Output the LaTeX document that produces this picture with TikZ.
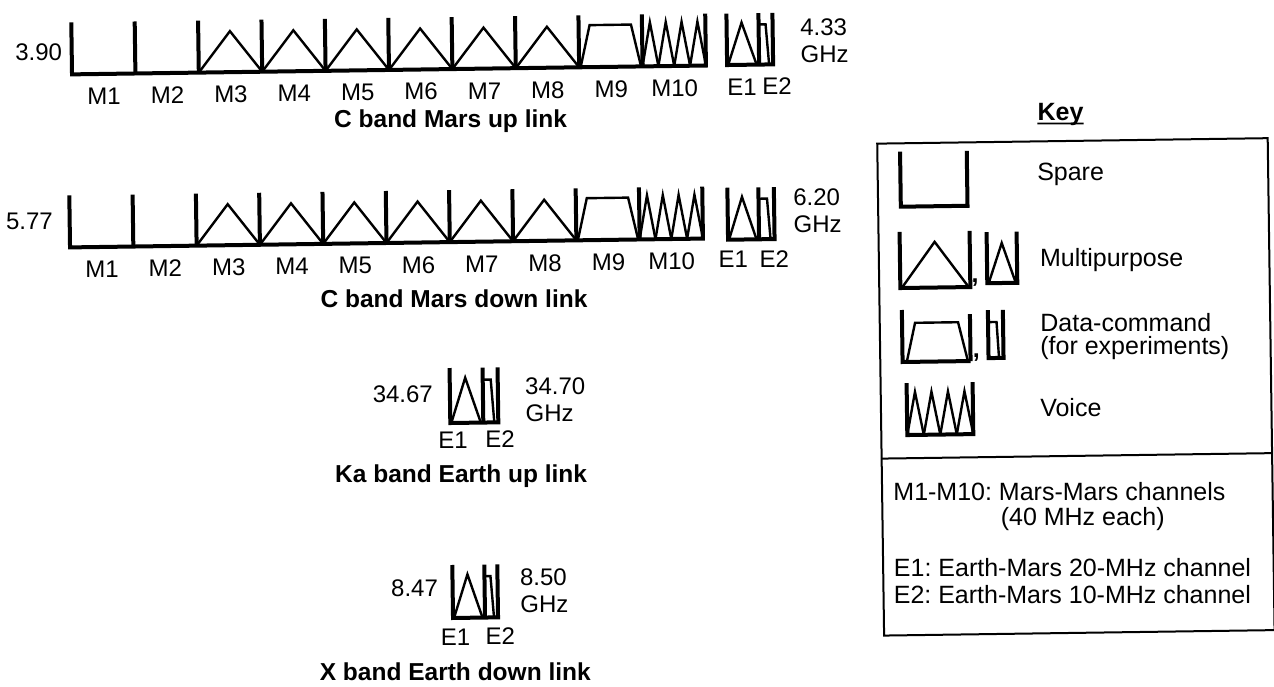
\documentclass[tikz,border=0pt]{standalone}
\usepackage{fontspec}
\setmainfont{Liberation Sans}
\frenchspacing
\tikzset{
  wall/.style={line width=4pt, line join=miter},
  sig/.style={line width=2.4pt, line join=miter},
  frame/.style={line width=2pt},
  lbl/.style={inner sep=0pt, font=\fontsize{24}{28}\selectfont},
  ttl/.style={inner sep=0pt, font=\fontsize{24.5}{28}\selectfont\bfseries},
  keytxt/.style={inner sep=0pt, font=\fontsize{25}{29}\selectfont},
}
% #1 = channel step, #2 = name prefix
\newcommand{\MarsBandDraw}[2]{%
  \foreach \i in {3,...,8}{\draw[sig] ({(\i-1)*#1},0)--({(\i-0.5)*#1},-41)--({\i*#1},0);}
  \draw[sig] ({8*#1+1.5},0)--({8*#1+11},-42)--({9*#1-11},-42)--({9*#1-1.5},0);
  \foreach \k in {0,...,3}{\draw[sig] ({9*#1+\k*#1/4},0)--({9*#1+(\k+0.5)*#1/4},-44)--({9*#1+(\k+1)*#1/4},0);}
  \draw[wall] (0,-52)--(0,0)--({10*#1},0)--({10*#1},-52);
  \foreach \i in {1,...,9}{\draw[wall] ({\i*#1},0)--({\i*#1},-52);}
  \foreach \i in {1,...,10}{\node[lbl,anchor=base,name=#2m\i] at ({(\i-0.5)*#1},30.5) {M\i};}
}
% #1 = wall height, #2 = divider offset, #3 = right wall offset
\newcommand{\EBlockDraw}[3]{%
  \draw[sig] (1,0)--({#2/2-1},{-0.82*#1})--({#2-2.5},0);
  \draw[sig] (#2,{-0.78*#1})--({#3-7},{-0.78*#1})--({#3-4},0);
  \draw[wall] (0,-#1)--(0,0)--(#3,0)--(#3,-#1);
  \draw[wall] (#2,0)--(#2,-#1);
}
\begin{document}
\begin{tikzpicture}[x=1pt,y=-1pt]
\useasboundingbox (0,0) rectangle (1274,687);
\fill[white] (0,0) rectangle (1274,687);
\begin{scope}[rotate around={0.8:(637,343)}]
% ---------------- C band Mars up link
\begin{scope}[shift={(75.8,66.5)}]
  \MarsBandDraw{63.4}{u}
\end{scope}
\begin{scope}[shift={(731,66.3)}]
  \EBlockDraw{51.5}{32}{46}
\end{scope}
\node[lbl,anchor=base east] (uLo) at (66.2,52) {3.90};
\node[lbl,anchor=base west] (uHi) at (804.4,37.3) {4.33};
\node[lbl,anchor=base west] (uGHz) at (804.4,65.3) {GHz};
\node[lbl,anchor=base] (uE1) at (745.6,96.5) {E1};
\node[lbl,anchor=base] (uE2) at (780.6,96.5) {E2};
\node[ttl,anchor=base] (uTitle) at (453.6,125) {C band Mars up link};
% ---------------- C band Mars down link
\begin{scope}[shift={(71.4,239.5)}]
  \MarsBandDraw{63.3}{d}
\end{scope}
\begin{scope}[shift={(729.5,241)}]
  \EBlockDraw{52}{31}{46.5}
\end{scope}
\node[lbl,anchor=base east] (dLo) at (54.6,221.8) {5.77};
\node[lbl,anchor=base west] (dHi) at (795,207.2) {6.20};
\node[lbl,anchor=base west] (dGHz) at (795,234.2) {GHz};
\node[lbl,anchor=base] (dE1) at (734.4,269.3) {E1};
\node[lbl,anchor=base] (dE2) at (775.4,269.3) {E2};
\node[ttl,anchor=base] (dTitle) at (454.5,305) {C band Mars down link};
% ---------------- Ka band Earth up link
\begin{scope}[shift={(449.2,420.4)}]
  \EBlockDraw{55}{33}{48}
\end{scope}
\node[lbl,anchor=base east] (kLo) at (432.2,400.1) {34.67};
\node[lbl,anchor=base west] (kHi) at (524.3,393.4) {34.70};
\node[lbl,anchor=base west] (kGHz) at (524.3,420.1) {GHz};
\node[lbl,anchor=base] (kE1) at (451.6,445.6) {E1};
\node[lbl,anchor=base] (kE2) at (498.6,445.6) {E2};
\node[ttl,anchor=base] (kTitle) at (459.2,480.5) {Ka band Earth up link};
% ---------------- X band Earth down link
\begin{scope}[shift={(449.2,615.4)}]
  \EBlockDraw{53}{32}{45}
\end{scope}
\node[lbl,anchor=base east] (xLo) at (434.6,594.2) {8.47};
\node[lbl,anchor=base west] (xHi) at (516.5,583.4) {8.50};
\node[lbl,anchor=base west] (xGHz) at (516.5,610.4) {GHz};
\node[lbl,anchor=base] (xE1) at (451.3,642.7) {E1};
\node[lbl,anchor=base] (xE2) at (496,642.7) {E2};
\node[ttl,anchor=base] (xTitle) at (450.6,677.5) {X band Earth down link};
% ---------------- Key
\node[ttl,anchor=base,font=\fontsize{25}{29}\selectfont\bfseries] (key) at (1063.6,126) {Key};
\draw[line width=1.8pt] ([yshift=-3.5pt]key.base west) -- ([yshift=-3.5pt]key.base east);
\draw[frame] (880,147) rectangle (1270.5,639);
\draw[frame] (880,462) -- (1270.5,462);
% spare
\draw[wall] (902.7,155.4)--(902.7,210.4)--(969.4,210.4)--(969.4,155.4);
\node[keytxt,anchor=base west] (kspare) at (1039.3,185.6) {Spare};
% multipurpose
\draw[sig] (902.5,291.7)--(936,246)--(969.5,291.7);
\draw[wall] (901.1,235.6)--(901.1,291.7)--(971.1,291.7)--(971.1,235.6);
\draw[sig] (989.5,288.1)--(1003.1,248.1)--(1016.6,288.1);
\draw[wall] (988.1,237)--(988.1,288.1)--(1018.1,288.1)--(1018.1,237);
\node[keytxt,anchor=base,font=\fontsize{25}{29}\selectfont\bfseries] (kc1) at (976,287) {,};
\node[keytxt,anchor=base west] (kmulti) at (1041,272.3) {Multipurpose};
% data-command
\draw[sig] (906.5,365.7)--(915.3,326.7)--(958.3,326.7)--(967.5,365);
\draw[wall] (902.3,313.7)--(902.3,365.7)--(970.3,365.7);
\draw[wall] (970.3,365.7)--(970.3,318.7);
\draw[sig] (988.3,327)--(996.8,327)--(998.8,363);
\draw[wall] (988.3,315)--(988.3,363)--(1003.3,363)--(1003.3,315);
\node[keytxt,anchor=base,font=\fontsize{25}{29}\selectfont\bfseries] (kc2) at (976,362) {,};
\node[keytxt,anchor=base west] (kdata) at (1040.3,337.3) {Data-command};
\node[keytxt,anchor=base west] (kexp) at (1040,360.6) {(for experiments)};
% voice
\foreach \k in {0,...,3}{\draw[sig] ({906+\k*16.5},438.8)--({906+(\k+0.5)*16.5},395.8)--({906+(\k+1)*16.5},438.8);}
\draw[wall] (906,386.8)--(906,438.8)--(972,438.8)--(972,386.8);
\node[keytxt,anchor=base west] (kvoice) at (1039,422.3) {Voice};
% notes
\node[keytxt,anchor=base west] (n1) at (891,504) {M1-M10: Mars-Mars channels};
\node[keytxt,anchor=base west] (n2) at (998,530.8) {(40 MHz each)};
\node[keytxt,anchor=base west] (n3) at (890.5,580.3) {E1: Earth-Mars 20-MHz channel};
\node[keytxt,anchor=base west] (n4) at (890,607) {E2: Earth-Mars 10-MHz channel};
\end{scope}
\end{tikzpicture}
\end{document}
